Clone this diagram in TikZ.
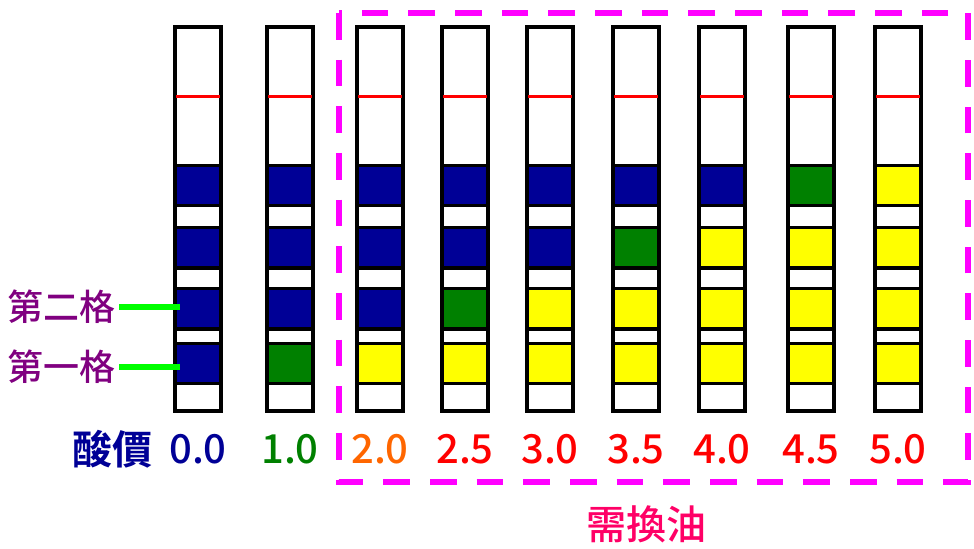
\documentclass[tikz,border=0pt]{standalone}
\usepackage{fontspec}
\newfontfamily\cjk{Noto Sans CJK TC Medium}[BoldFont={Noto Sans CJK TC Bold}]
\definecolor{navy}{RGB}{0,0,150}
\definecolor{dgreen}{RGB}{0,128,0}
\definecolor{yel}{RGB}{255,255,0}
\definecolor{orng}{RGB}{255,102,0}
\definecolor{mag}{RGB}{255,0,255}
\definecolor{pinkred}{RGB}{255,0,102}
\definecolor{purp}{RGB}{128,0,128}
\definecolor{lgreen}{RGB}{0,255,0}
\tikzset{
  tube/.style={draw=black, line width=2.4pt, fill=white},
  blk/.style={draw=black, line width=2.4pt},
  redline/.style={draw=red, line width=2.3pt},
  numlab/.style={font=\cjk\fontsize{30}{30}\selectfont, inner sep=0pt},
  sidelab/.style={font=\cjk\fontsize{27}{27}\selectfont, text=purp, inner sep=0pt},
  pointer/.style={draw=lgreen, line width=3.8pt},
  oilbox/.style={draw=mag, line width=4.5pt, dash pattern=on 20pt off 15pt}
}
\begin{document}
\begin{tikzpicture}[x=0.75pt,y=-0.75pt]
\useasboundingbox (0,0) rectangle (974,549);
\foreach \cx/\ca/\cb/\cc/\cd/\lab/\lc [count=\i] in {
  198/navy/navy/navy/navy/0.0/navy,
  290/navy/navy/navy/dgreen/1.0/dgreen,
  380/navy/navy/navy/yel/2.0/orng,
  465/navy/navy/dgreen/yel/2.5/red,
  550/navy/navy/yel/yel/3.0/red,
  636/navy/dgreen/yel/yel/3.5/red,
  722/navy/yel/yel/yel/4.0/red,
  811/dgreen/yel/yel/yel/4.5/red,
  898/yel/yel/yel/yel/5.0/red}{
  \path[tube] (\cx-23,27) rectangle (\cx+23,411);
  \draw[redline] (\cx-22,96.5) -- (\cx+22,96.5);
  \path[blk, fill=\ca] (\cx-23,165.5) rectangle (\cx+23,205.5);
  \path[blk, fill=\cb] (\cx-23,227.5) rectangle (\cx+23,268);
  \path[blk, fill=\cc] (\cx-23,288.5) rectangle (\cx+23,329);
  \path[blk, fill=\cd] (\cx-23,343.5) rectangle (\cx+23,383.5);
  \node[numlab, text=\lc] (n\i) at (\cx,449) {\lab};
  \coordinate (b3\i) at (\cx-18,307);
  \coordinate (b4\i) at (\cx-18,367);
}
\node[numlab, text=navy, font=\cjk\bfseries\fontsize{30}{30}\selectfont, anchor=east] (acid) at (153,449) {酸價};
\node[sidelab, anchor=east] (second) at (116,307) {第二格};
\node[sidelab, anchor=east] (first) at (116,367) {第一格};
\draw[pointer] (second.east) ++(3,0) -- (b31);
\draw[pointer] (first.east) ++(3,0) -- (b41);
\draw[oilbox] (339,13) rectangle (968,482);
\node[numlab, text=pinkred] (oil) at (646,524) {需換油};
\end{tikzpicture}
\end{document}
